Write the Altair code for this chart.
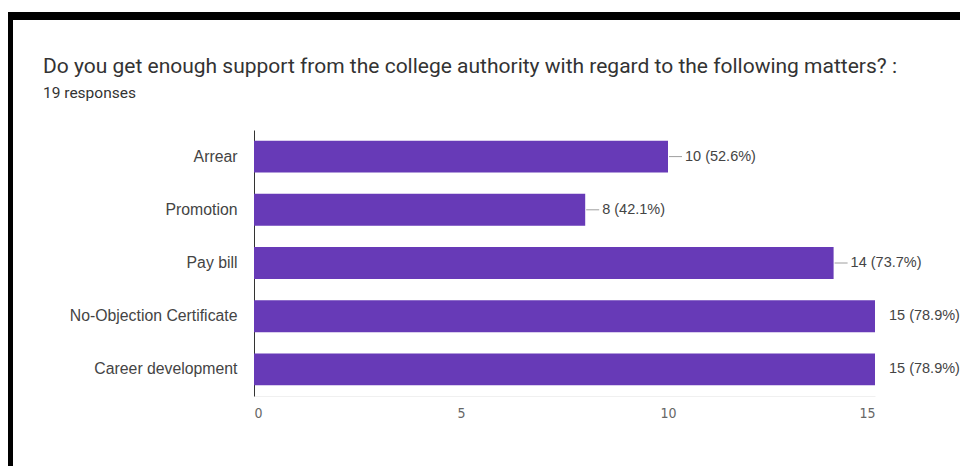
import altair as alt
import pandas as pd

categories = ["Arrear", "Promotion", "Pay bill", "No-Objection Certificate", "Career development"]
counts = [10, 8, 14, 15, 15]
total_responses = 19
x_ticks = [0, 5, 10, 15]

title_text = "Do you get enough support from the college authority with regard to the following matters? :"
subtitle_text = "19 responses"

df = pd.DataFrame({"category": categories, "value": counts})

FONT = "Roboto"
LFONT = "Liberation Sans"
PURPLE = "#673ab7"

y_enc = alt.Y("category:N", sort=categories, title=None,
              scale=alt.Scale(paddingInner=0.4, paddingOuter=0.2),
              axis=alt.Axis(labelFontSize=15.8, labelColor="#444444", labelFont=LFONT,
                            labelPadding=17, ticks=False, domain=True,
                            domainColor="#333333", domainWidth=1, grid=False))
x_scale = alt.Scale(domain=[0, 15], nice=False)

bars = alt.Chart(df).mark_bar(color=PURPLE).encode(
    x=alt.X("value:Q", scale=x_scale, title=None,
            axis=alt.Axis(values=x_ticks, labelFontSize=14, labelColor="#666666",
                          labelFont="DejaVu Sans Condensed, Liberation Sans", ticks=False,
                          domain=True, domainColor="#f0f0f0", grid=False, labelPadding=10)),
    y=y_enc,
)

base = alt.Chart(df).transform_calculate(
    label="datum.value + ' (' + format(datum.value / %d, '.1%%') + ')'" % total_responses
)

leaders = base.transform_filter("datum.value < 15").mark_rule(
    color="#9e9e9e", strokeWidth=1, xOffset=1, x2Offset=14
).encode(
    x=alt.X("value:Q", scale=x_scale),
    x2="value:Q",
    y=alt.Y("category:N", sort=categories),
)

labels_lead = base.transform_filter("datum.value < 15").mark_text(
    align="left", baseline="middle", dx=17, fontSize=14.5, font=LFONT, color="#444444"
).encode(
    x=alt.X("value:Q", scale=x_scale),
    y=alt.Y("category:N", sort=categories),
    text="label:N",
)

labels_max = base.transform_filter("datum.value >= 15").mark_text(
    align="left", baseline="middle", dx=14, fontSize=14.5, font=LFONT, color="#444444"
).encode(
    x=alt.X("value:Q", scale=x_scale),
    y=alt.Y("category:N", sort=categories),
    text="label:N",
)

one = pd.DataFrame({"title": [title_text], "subtitle": [subtitle_text]})
title_mark = alt.Chart(one).mark_text(
    align="left", baseline="alphabetic", fontSize=21, font=FONT, color="#333333"
).encode(x=alt.value(-211), y=alt.value(-57), text="title:N")
subtitle_mark = alt.Chart(one).mark_text(
    align="left", baseline="alphabetic", fontSize=15.5, font=FONT, color="#333333"
).encode(x=alt.value(-211), y=alt.value(-32), text="subtitle:N")

top_bar = alt.Chart(one).mark_rect(color="#000000").encode(
    x=alt.value(-246), x2=alt.value(714), y=alt.value(-118), y2=alt.value(-110)
)
left_bar = alt.Chart(one).mark_rect(color="#000000").encode(
    x=alt.value(-246), x2=alt.value(-241), y=alt.value(-118), y2=alt.value(336)
)

chart = alt.layer(top_bar, left_bar, title_mark, subtitle_mark,
                  bars, leaders, labels_lead, labels_max).properties(
    width=621,
    height=266,
    autosize=alt.AutoSizeParams(type="none"),
    padding={"left": 246, "top": 122, "right": 85, "bottom": 70},
    background="white",
).configure_view(stroke=None)

chart.save("out.html", embed_options={"renderer": "svg", "actions": False})
